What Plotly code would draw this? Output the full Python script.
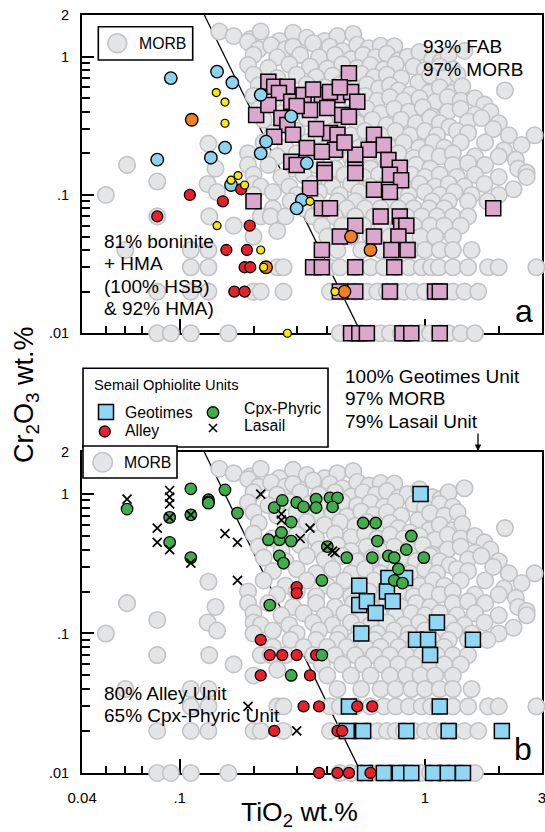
import math
import plotly.graph_objects as go

# ---------------- DATA (TiO2 wt.%, Cr2O3 wt.%) ----------------
# MORB reference field (same in both panels)
morb_ti = [
    0.145, 0.166, 0.194, 0.214, 0.255, 0.29, 0.33, 0.39, 0.44, 0.51,
    0.19, 0.21, 0.236, 0.27, 0.29, 0.35, 0.41, 0.46, 0.53, 0.59, 0.66, 0.75,
    0.2, 0.25, 0.31, 0.37, 0.43, 0.5, 0.56, 0.63, 0.7, 0.78, 0.85, 0.95, 1.07, 1.16, 1.25, 1.45,
    0.19, 0.23, 0.28, 0.34, 0.4, 0.46, 0.53, 0.6, 0.68, 0.76, 0.9, 1.0, 1.15, 1.3,
    0.2, 0.25, 0.3, 0.36, 0.42, 0.48, 0.55, 0.62, 0.7, 0.8, 0.94, 1.05, 1.2, 1.36,
    0.21, 0.27, 0.33, 0.39, 0.45, 0.52, 0.58, 0.65, 0.72, 0.78, 0.87, 1.04, 1.15, 1.3, 1.42, 2.12,
    0.2, 0.24, 0.3, 0.36, 0.43, 0.5, 0.57, 0.64, 0.72, 0.82, 0.95, 1.1, 1.24, 1.4, 1.6, 1.75,
    0.21, 0.26, 0.31, 0.37, 0.44, 0.5, 0.58, 0.66, 0.75, 0.86, 0.98, 1.07, 1.24, 1.4, 1.6, 1.85,
    0.22, 0.27, 0.33, 0.39, 0.46, 0.53, 0.61, 0.7, 0.8, 0.92, 1.05, 1.15, 1.26, 1.5, 1.7, 2.0,
    0.24, 0.3, 0.36, 0.42, 0.5, 0.57, 0.66, 0.76, 0.87, 1.0, 1.12, 1.35, 1.5, 1.9, 2.2, 2.8,
    0.22, 0.27, 0.33, 0.4, 0.47, 0.54, 0.62, 0.72, 0.82, 0.95, 1.08, 1.2, 1.4, 1.76, 2.1, 2.48,
    0.19, 0.25, 0.3, 0.36, 0.43, 0.5, 0.59, 0.68, 0.78, 0.9, 1.02, 1.15, 1.3, 1.6, 2.0, 2.35,
    0.19, 0.23, 0.29, 0.36, 0.43, 0.51, 0.6, 0.7, 0.8, 0.92, 1.05, 1.3, 1.5, 1.76, 2.4, 2.6,
    0.2, 0.26, 0.32, 0.39, 0.47, 0.56, 0.65, 0.76, 0.88, 1.0, 1.15, 1.35, 1.6, 2.0, 2.6,
    0.2, 0.214, 0.28, 0.35, 0.42, 0.5, 0.6, 0.7, 0.82, 0.95, 1.1, 1.25, 1.45, 1.75, 2.3,
    0.2, 0.24, 0.3, 0.37, 0.45, 0.54, 0.64, 0.75, 0.86, 1.0, 1.15, 1.32, 1.55, 2.0,
    0.283, 0.36, 0.44, 0.52, 0.62, 0.72, 0.85, 1.07, 1.25, 1.5, 1.8,
    0.24, 0.32, 0.4, 0.48, 0.57, 0.66, 0.78, 0.9, 1.04, 1.2,
    0.214, 0.235, 0.27, 0.35, 0.43, 0.52, 0.62, 0.72, 0.84, 0.97, 1.12, 1.3, 1.5,
    0.38, 0.46, 0.56, 0.67, 0.78, 0.9, 1.05, 1.2, 1.4,
    0.2, 0.25, 0.4, 0.5, 0.6, 0.72, 0.84, 0.96, 1.1, 1.3,
    0.06, 0.111, 0.131, 0.44, 0.55, 0.66, 0.76, 0.88, 1.0, 1.15, 1.3, 1.55,
    0.111, 0.131, 0.25, 0.265, 0.41, 0.45, 0.52, 0.6, 0.68, 0.76, 0.86, 0.97, 1.06, 1.14, 1.3, 1.5, 1.81, 2.0, 2.85,
    0.081, 0.111, 0.131, 0.2, 0.214, 0.265, 0.41, 0.46, 0.52, 0.58, 0.64, 0.7, 0.76, 0.82, 0.9, 1.0, 1.1, 1.2, 1.3, 1.45, 1.65,
    0.081, 0.092, 0.111, 0.158, 0.45, 0.5, 0.55, 0.6, 0.66, 0.72, 0.8, 0.88, 0.96, 1.05, 1.15, 1.25, 1.4, 1.6,
    0.05, 0.061, 0.081, 0.081, 0.131, 0.14, 0.13, 0.142, 0.132, 0.166,
]
morb_cr = [
    1.52, 1.41, 1.34, 1.52, 1.3, 1.49, 1.37, 1.3, 1.41, 1.46,
    1.28, 1.13, 1.21, 1.13, 1.18, 1.25, 1.18, 1.1, 1.22, 1.15, 1.2, 1.19,
    1.03, 0.99, 1.03, 0.99, 1.03, 0.96, 1.03, 0.99, 1.05, 0.94, 1.0, 1.08, 0.95, 0.92, 1.03, 1.1,
    0.87, 0.83, 0.88, 0.85, 0.82, 0.88, 0.83, 0.87, 0.81, 0.88, 0.85, 0.8, 0.85, 0.81,
    0.74, 0.7, 0.74, 0.71, 0.73, 0.69, 0.75, 0.71, 0.74, 0.7, 0.65, 0.73, 0.7, 0.74,
    0.62, 0.59, 0.63, 0.6, 0.63, 0.59, 0.63, 0.59, 0.62, 0.57, 0.53, 0.55, 0.6, 0.55, 0.61, 0.57,
    0.52, 0.48, 0.51, 0.48, 0.52, 0.49, 0.52, 0.48, 0.51, 0.48, 0.5, 0.47, 0.51, 0.48, 0.5, 0.45,
    0.42, 0.39, 0.43, 0.4, 0.43, 0.39, 0.42, 0.39, 0.42, 0.4, 0.43, 0.37, 0.4, 0.42, 0.38, 0.4,
    0.35, 0.33, 0.36, 0.34, 0.36, 0.33, 0.35, 0.32, 0.35, 0.33, 0.36, 0.33, 0.31, 0.34, 0.36, 0.33,
    0.28, 0.29, 0.27, 0.29, 0.27, 0.29, 0.27, 0.29, 0.27, 0.29, 0.27, 0.29, 0.28, 0.3, 0.27, 0.27,
    0.24, 0.22, 0.24, 0.22, 0.24, 0.22, 0.24, 0.22, 0.24, 0.22, 0.24, 0.22, 0.24, 0.24, 0.21, 0.23,
    0.2, 0.19, 0.2, 0.185, 0.2, 0.185, 0.2, 0.185, 0.2, 0.185, 0.2, 0.19, 0.2, 0.19, 0.19, 0.18,
    0.165, 0.165, 0.155, 0.165, 0.155, 0.165, 0.155, 0.165, 0.155, 0.165, 0.155, 0.165, 0.17, 0.165, 0.155, 0.145,
    0.14, 0.135, 0.14, 0.135, 0.14, 0.135, 0.14, 0.135, 0.14, 0.135, 0.14, 0.135, 0.14, 0.135, 0.135,
    0.12, 0.115, 0.115, 0.12, 0.115, 0.12, 0.115, 0.12, 0.115, 0.12, 0.115, 0.12, 0.115, 0.12, 0.11,
    0.1, 0.105, 0.1, 0.105, 0.1, 0.105, 0.1, 0.105, 0.1, 0.105, 0.1, 0.105, 0.1, 0.1,
    0.09, 0.09, 0.09, 0.09, 0.09, 0.09, 0.09, 0.09, 0.09, 0.09, 0.09,
    0.08, 0.08, 0.08, 0.08, 0.08, 0.08, 0.08, 0.08, 0.08, 0.08,
    0.07, 0.07, 0.07, 0.07, 0.07, 0.07, 0.07, 0.07, 0.07, 0.07, 0.07, 0.07, 0.07,
    0.06, 0.06, 0.06, 0.06, 0.06, 0.06, 0.06, 0.06, 0.06,
    0.05, 0.055, 0.05, 0.05, 0.05, 0.05, 0.05, 0.05, 0.05, 0.05,
    0.04, 0.04, 0.04, 0.04, 0.04, 0.04, 0.04, 0.04, 0.04, 0.04, 0.04, 0.04,
    0.03, 0.03, 0.03, 0.03, 0.03, 0.03, 0.03, 0.03, 0.03, 0.03, 0.03, 0.03, 0.03, 0.03, 0.03, 0.03, 0.03, 0.03, 0.03,
    0.02, 0.02, 0.02, 0.02, 0.02, 0.02, 0.02, 0.02, 0.02, 0.02, 0.02, 0.02, 0.02, 0.02, 0.02, 0.02, 0.02, 0.02, 0.02, 0.02, 0.02,
    0.01, 0.01, 0.01, 0.01, 0.01, 0.01, 0.01, 0.01, 0.01, 0.01, 0.01, 0.01, 0.01, 0.01, 0.01, 0.01, 0.01, 0.01,
    0.1, 0.165, 0.125, 0.07, 0.235, 0.155, 0.12, 0.105, 0.07, 0.06,
]

# Panel a: FAB (pink squares)
fab_ti = [0.49, 0.23, 0.243, 0.275, 0.254, 0.205, 0.23, 0.285, 0.32, 0.38, 0.44, 0.41, 0.5, 0.53,
          0.4, 0.46, 0.49, 0.34, 0.26, 0.275, 0.29, 0.243, 0.41, 0.44, 0.62, 0.68, 0.59, 0.52,
          0.43, 0.38, 0.33, 0.285, 0.3, 0.39, 0.52, 0.71, 0.79, 0.39, 0.52, 0.72, 0.8, 0.62,
          0.72, 0.34, 0.35, 0.45, 0.3, 0.36, 0.47,
          0.2, 0.38, 0.41, 1.9, 0.66, 0.79, 0.52, 0.8, 0.84, 0.45, 0.62, 0.78, 0.38, 0.73, 0.85,
          0.35, 0.38, 0.52, 0.75, 0.45, 0.52, 0.72, 1.1, 1.15, 0.5, 0.54, 0.58, 0.81, 0.88, 1.15]
fab_cr = [0.76, 0.66, 0.607, 0.607, 0.547, 0.379, 0.448, 0.473, 0.529, 0.529, 0.529, 0.556, 0.556, 0.473,
          0.426, 0.379, 0.368, 0.412, 0.36, 0.321, 0.272, 0.264, 0.281, 0.272, 0.272, 0.23, 0.212, 0.195,
          0.212, 0.205, 0.219, 0.174, 0.165, 0.152, 0.152, 0.179, 0.157, 0.144, 0.144, 0.14, 0.128, 0.109,
          0.105, 0.112, 0.58, 0.6, 0.44, 0.3, 0.24,
          0.09, 0.08, 0.08, 0.08, 0.07, 0.07, 0.06, 0.06, 0.06, 0.05, 0.05, 0.05, 0.04, 0.04, 0.04,
          0.03, 0.03, 0.03, 0.03, 0.02, 0.02, 0.02, 0.02, 0.02, 0.01, 0.01, 0.01, 0.01, 0.01, 0.01]

# Panel a: boninite / HMA groups
a_blue_ti = [0.092, 0.142, 0.164, 0.214, 0.081, 0.134, 0.153, 0.162, 0.214, 0.225, 0.285, 0.33, 0.315, 0.3]
a_blue_cr = [0.7, 0.78, 0.65, 0.53, 0.18, 0.186, 0.22, 0.118, 0.2, 0.243, 0.37, 0.17, 0.092, 0.08]
a_red_ti = [0.11, 0.15, 0.178, 0.081, 0.193, 0.155, 0.188, 0.184, 0.194, 0.167, 0.184]
a_red_cr = [0.1, 0.09, 0.11, 0.07, 0.06, 0.04, 0.04, 0.03, 0.03, 0.02, 0.02]
a_orange_ti = [0.112, 0.5, 0.6, 0.47, 0.225]
a_orange_cr = [0.35, 0.05, 0.04, 0.02, 0.03]
a_yellow_ti = [0.141, 0.153, 0.153, 0.162, 0.173, 0.184, 0.142, 0.214, 0.22, 0.34, 0.43, 0.275]
a_yellow_cr = [0.55, 0.47, 0.33, 0.128, 0.138, 0.118, 0.06, 0.04, 0.03, 0.09, 0.02, 0.01]

# Panel b: Semail Ophiolite units
geotimes_ti = [0.96, 0.54, 0.54, 0.58, 0.63, 0.71, 0.7, 0.74, 0.83, 1.12, 0.55, 0.92, 1.03, 1.57, 1.05,
               0.49, 1.15, 0.48, 0.56, 0.84, 1.25, 2.06, 0.57, 0.68, 0.79, 0.88, 1.08, 1.24, 1.43]
geotimes_cr = [1.0, 0.22, 0.16, 0.17, 0.14, 0.25, 0.2, 0.17, 0.25, 0.12, 0.1, 0.09, 0.09, 0.09, 0.07,
               0.03, 0.03, 0.02, 0.02, 0.02, 0.02, 0.02, 0.01, 0.01, 0.01, 0.01, 0.01, 0.01, 0.01]
alley_ti = [0.3, 0.3, 0.214, 0.233, 0.262, 0.3, 0.36, 0.214, 0.34, 0.32, 0.37, 0.53, 0.61,
            0.243, 0.44, 0.46, 0.37, 0.44, 0.49, 0.6]
alley_cr = [0.215, 0.195, 0.09, 0.07, 0.07, 0.07, 0.07, 0.05, 0.05, 0.03, 0.03, 0.03, 0.03,
            0.02, 0.02, 0.02, 0.01, 0.01, 0.01, 0.01]
cpx_ti = [0.061, 0.091, 0.091, 0.111, 0.111, 0.111, 0.131, 0.131, 0.131, 0.153, 0.172, 0.233, 0.243,
          0.262, 0.3, 0.32, 0.23, 0.255, 0.285, 0.285, 0.26, 0.255, 0.265, 0.36, 0.36, 0.41, 0.44,
          0.42, 0.56, 0.63, 0.64, 0.88, 0.84, 0.99, 0.71, 0.75, 0.61, 0.48, 0.78, 0.38, 0.75, 0.81,
          0.4, 0.38, 0.285]
cpx_cr = [0.78, 0.68, 0.45, 1.09, 0.71, 0.35, 0.91, 0.88, 0.86, 1.07, 0.73, 0.16, 0.8,
          0.9, 0.87, 0.81, 0.47, 0.47, 0.63, 0.46, 0.53, 0.36, 0.32, 0.92, 0.8, 0.94, 0.94,
          0.81, 0.62, 0.62, 0.46, 0.5, 0.4, 0.35, 0.36, 0.35, 0.35, 0.35, 0.29, 0.24, 0.24, 0.23,
          0.42, 0.07, 0.05]
lasail_ti = [0.061, 0.091, 0.091, 0.091, 0.091, 0.111, 0.081, 0.081, 0.091, 0.111, 0.153, 0.172,
             0.172, 0.214, 0.26, 0.26, 0.31, 0.34, 0.4, 0.42, 0.43, 0.19, 0.3]
lasail_cr = [0.92, 1.06, 0.95, 0.85, 0.68, 0.71, 0.57, 0.45, 0.4, 0.32, 0.52, 0.45,
             0.24, 1.0, 0.72, 0.65, 0.48, 0.57, 0.42, 0.39, 0.38, 0.03, 0.02]

# Boundary line
line_ti = [0.126, 0.55]
line_cr = [2.0, 0.01]

# Axes ticks
x_tick_vals = [0.04, 0.1, 1, 3]
x_tick_text = ["0.04", ".1", "1", "3"]
x_minor_vals = [0.05, 0.06, 0.07, 0.08, 0.09, 0.2, 0.3, 0.4, 0.5, 0.6, 0.7, 0.8, 0.9, 2]
y_tick_vals = [0.01, 0.1, 1, 2]
y_tick_text = [".01", ".1", "1", "2"]
y_minor_vals = [0.02, 0.03, 0.04, 0.05, 0.06, 0.07, 0.08, 0.09, 0.2, 0.3, 0.4, 0.5, 0.6, 0.7, 0.8, 0.9]

# ---------------- STYLE ----------------
FONT = "Liberation Sans, Arial, sans-serif"
GRAY_FILL, GRAY_LINE = "#e4e5e7", "#c3c3c5"
PINK = "#dba7cd"
SKY = "#8ad4f2"
YELLOW = "#fde800"
ORANGE = "#f0801f"
RED = "#e8202a"
GREEN = "#3fae49"
SKY_B = "#8fd8f5"

L, R, T, B = 82, 3, 15, 59
W, H = 545, 832
PW, PH = W - L - R, H - T - B


def px_x(px):
    return (px - L) / PW


def px_y(py):
    return (H - B - py) / PH


fig = go.Figure()


def add_pts(x, y, ax, symbol, size, fill, lc, lw):
    xa, ya = ax
    fig.add_trace(go.Scatter(
        x=x, y=y, mode="markers", xaxis=xa, yaxis=ya, cliponaxis=False, showlegend=False,
        marker=dict(symbol=symbol, size=size, color=fill, line=dict(color=lc, width=lw)),
        hoverinfo="skip"))


for ax in [("x", "y"), ("x2", "y2")]:
    fig.add_trace(go.Scatter(x=line_ti, y=line_cr, mode="lines", xaxis=ax[0], yaxis=ax[1],
                             line=dict(color="black", width=1.3), showlegend=False,
                             hoverinfo="skip"))
    add_pts(morb_ti, morb_cr, ax, "circle", 16.5, GRAY_FILL, GRAY_LINE, 1.6)

A = ("x", "y")
add_pts(fab_ti, fab_cr, A, "square", 15, PINK, "black", 1.5)
add_pts(a_blue_ti, a_blue_cr, A, "circle", 12.5, SKY, "black", 1.4)
add_pts(a_red_ti, a_red_cr, A, "circle", 11, RED, "black", 1.3)
add_pts(a_orange_ti, a_orange_cr, A, "circle", 12.5, ORANGE, "black", 1.4)
add_pts(a_yellow_ti, a_yellow_cr, A, "circle", 8, YELLOW, "black", 1.2)

Bx = ("x2", "y2")
add_pts(geotimes_ti, geotimes_cr, Bx, "square", 15, SKY_B, "black", 1.5)
add_pts(alley_ti, alley_cr, Bx, "circle", 11, RED, "black", 1.3)
add_pts(cpx_ti, cpx_cr, Bx, "circle", 11.5, GREEN, "black", 1.3)
add_pts(lasail_ti, lasail_cr, Bx, "x-thin", 9, "black", "black", 1.7)

# ---------------- AXES ----------------
xr = [math.log10(0.04) - 0.0005, math.log10(3) + 0.0005]
yr = [-2 - 0.0005, math.log10(2) + 0.0005]
common_x = dict(type="log", range=xr, domain=[0, 1], showline=True, linecolor="black",
                linewidth=2, mirror=True, ticks="inside", ticklen=14, tickwidth=1.5,
                tickcolor="black", showgrid=False, zeroline=False, layer="below traces",
                tickvals=x_tick_vals, ticktext=x_tick_text, ticklabeloverflow="allow",
                tickfont=dict(size=15, color="black", family=FONT),
                minor=dict(tickvals=x_minor_vals, ticks="inside", ticklen=7, tickwidth=1.5,
                           tickcolor="black", showgrid=False))
common_y = dict(type="log", range=yr, showline=True, linecolor="black", linewidth=2,
                mirror=True, ticks="inside", ticklen=12, tickwidth=1.5, tickcolor="black",
                showgrid=False, zeroline=False, layer="below traces",
                tickvals=y_tick_vals, ticktext=y_tick_text, ticklabelstandoff=8,
                ticklabeloverflow="allow",
                tickfont=dict(size=14.5, color="black", family=FONT),
                minor=dict(tickvals=y_minor_vals, ticks="inside", ticklen=8, tickwidth=1.5,
                           tickcolor="black", showgrid=False))

ya_dom = [px_y(333.3), 1.0]
yb_dom = [0.0, px_y(452)]

fig.update_layout(
    width=W, height=H, margin=dict(l=L, r=R, t=T, b=B, autoexpand=False),
    paper_bgcolor="white", plot_bgcolor="white",
    font=dict(family=FONT, color="black"),
    xaxis=dict(common_x, anchor="y", showticklabels=False),
    xaxis2=dict(common_x, anchor="y2", showticklabels=True, ticklabelstandoff=10),
    yaxis=dict(common_y, domain=ya_dom, anchor="x"),
    yaxis2=dict(common_y, domain=yb_dom, anchor="x2"),
    showlegend=False,
)

# ---------------- LEGEND BOXES & KEYS (shapes) ----------------
shapes = []


def box(x0, y0, x1, y1):
    shapes.append(dict(type="rect", xref="paper", yref="paper", x0=px_x(x0), x1=px_x(x1),
                       y0=px_y(y1), y1=px_y(y0), fillcolor="white",
                       line=dict(color="black", width=1.6), layer="above"))


def key(kind, cx, cy, d, fill, lc, lw):
    s = dict(type=kind, xref="paper", yref="paper", xsizemode="pixel", ysizemode="pixel",
             xanchor=px_x(cx), yanchor=px_y(cy), x0=-d / 2, x1=d / 2, y0=-d / 2, y1=d / 2,
             line=dict(color=lc, width=lw), layer="above")
    if kind != "line":
        s["fillcolor"] = fill
    shapes.append(s)


box(98.3, 26.7, 192.7, 60)
key("circle", 117.3, 43.3, 19, GRAY_FILL, GRAY_LINE, 1.6)

box(83, 368.3, 328, 447)
box(83, 446, 177, 478)
key("circle", 102.7, 462.3, 19.5, GRAY_FILL, GRAY_LINE, 1.6)
key("rect", 106, 412, 15, SKY_B, "black", 1.5)
key("circle", 104.8, 431.5, 11, RED, "black", 1.3)
key("circle", 213, 412.5, 11.5, GREEN, "black", 1.3)
shapes.append(dict(type="line", xref="paper", yref="paper", xsizemode="pixel",
                   ysizemode="pixel", xanchor=px_x(213), yanchor=px_y(428),
                   x0=-4, x1=4, y0=-4, y1=4, line=dict(color="black", width=1.6), layer="above"))
shapes.append(dict(type="line", xref="paper", yref="paper", xsizemode="pixel",
                   ysizemode="pixel", xanchor=px_x(213), yanchor=px_y(428),
                   x0=-4, x1=4, y0=4, y1=-4, line=dict(color="black", width=1.6), layer="above"))
fig.update_layout(shapes=shapes)

# ---------------- TEXT ----------------
anns = []


def txt(text, px, py, size=19, xanchor="left", yanchor="middle", angle=0):
    anns.append(dict(text=text, xref="paper", yref="paper", x=px_x(px), y=px_y(py),
                     xanchor=xanchor, yanchor=yanchor, showarrow=False, textangle=angle,
                     font=dict(size=size, family=FONT, color="black")))


txt("MORB", 137.3, 43.8, 15.8)
txt("93% FAB", 421, 46.7)
txt("97% MORB", 421, 69)
txt("81% boninite", 102, 241)
txt("+ HMA", 102, 263.5)
txt("(100% HSB)", 102, 286.5)
txt("& 92% HMA)", 102, 308.5)
txt("a", 523.5, 311, 32, xanchor="center")

txt("Semail Ophiolite Units", 91.5, 384.5, 14.7)
txt("Geotimes", 123, 412, 15.8)
txt("Alley", 123, 430.5, 15.8)
txt("Cpx-Phyric", 242, 408.5, 15.8)
txt("Lasail", 242, 425.5, 15.8)
txt("MORB", 121.7, 462.7, 15.8)
txt("100% Geotimes Unit", 343, 376)
txt("97% MORB", 343, 398)
txt("79% Lasail Unit", 343, 421)
txt("80% Alley Unit", 102, 693.3)
txt("65% Cpx-Phyric Unit", 102, 715)
txt("b", 523, 748.5, 32, xanchor="center")

txt("Cr<sub>2</sub>O<sub>3</sub> wt.%", 26, 395, 27, xanchor="center", angle=-90)
txt("TiO<sub>2</sub> wt.%", 299, 814, 26.5, xanchor="center")

anns.append(dict(text="", xref="paper", yref="paper", x=px_x(478), y=px_y(451),
                 showarrow=True, ax=0, ay=-19, arrowhead=2, arrowsize=1, arrowwidth=1.3,
                 arrowcolor="black", standoff=0))
fig.update_layout(annotations=anns)

fig.write_html("out.html")
